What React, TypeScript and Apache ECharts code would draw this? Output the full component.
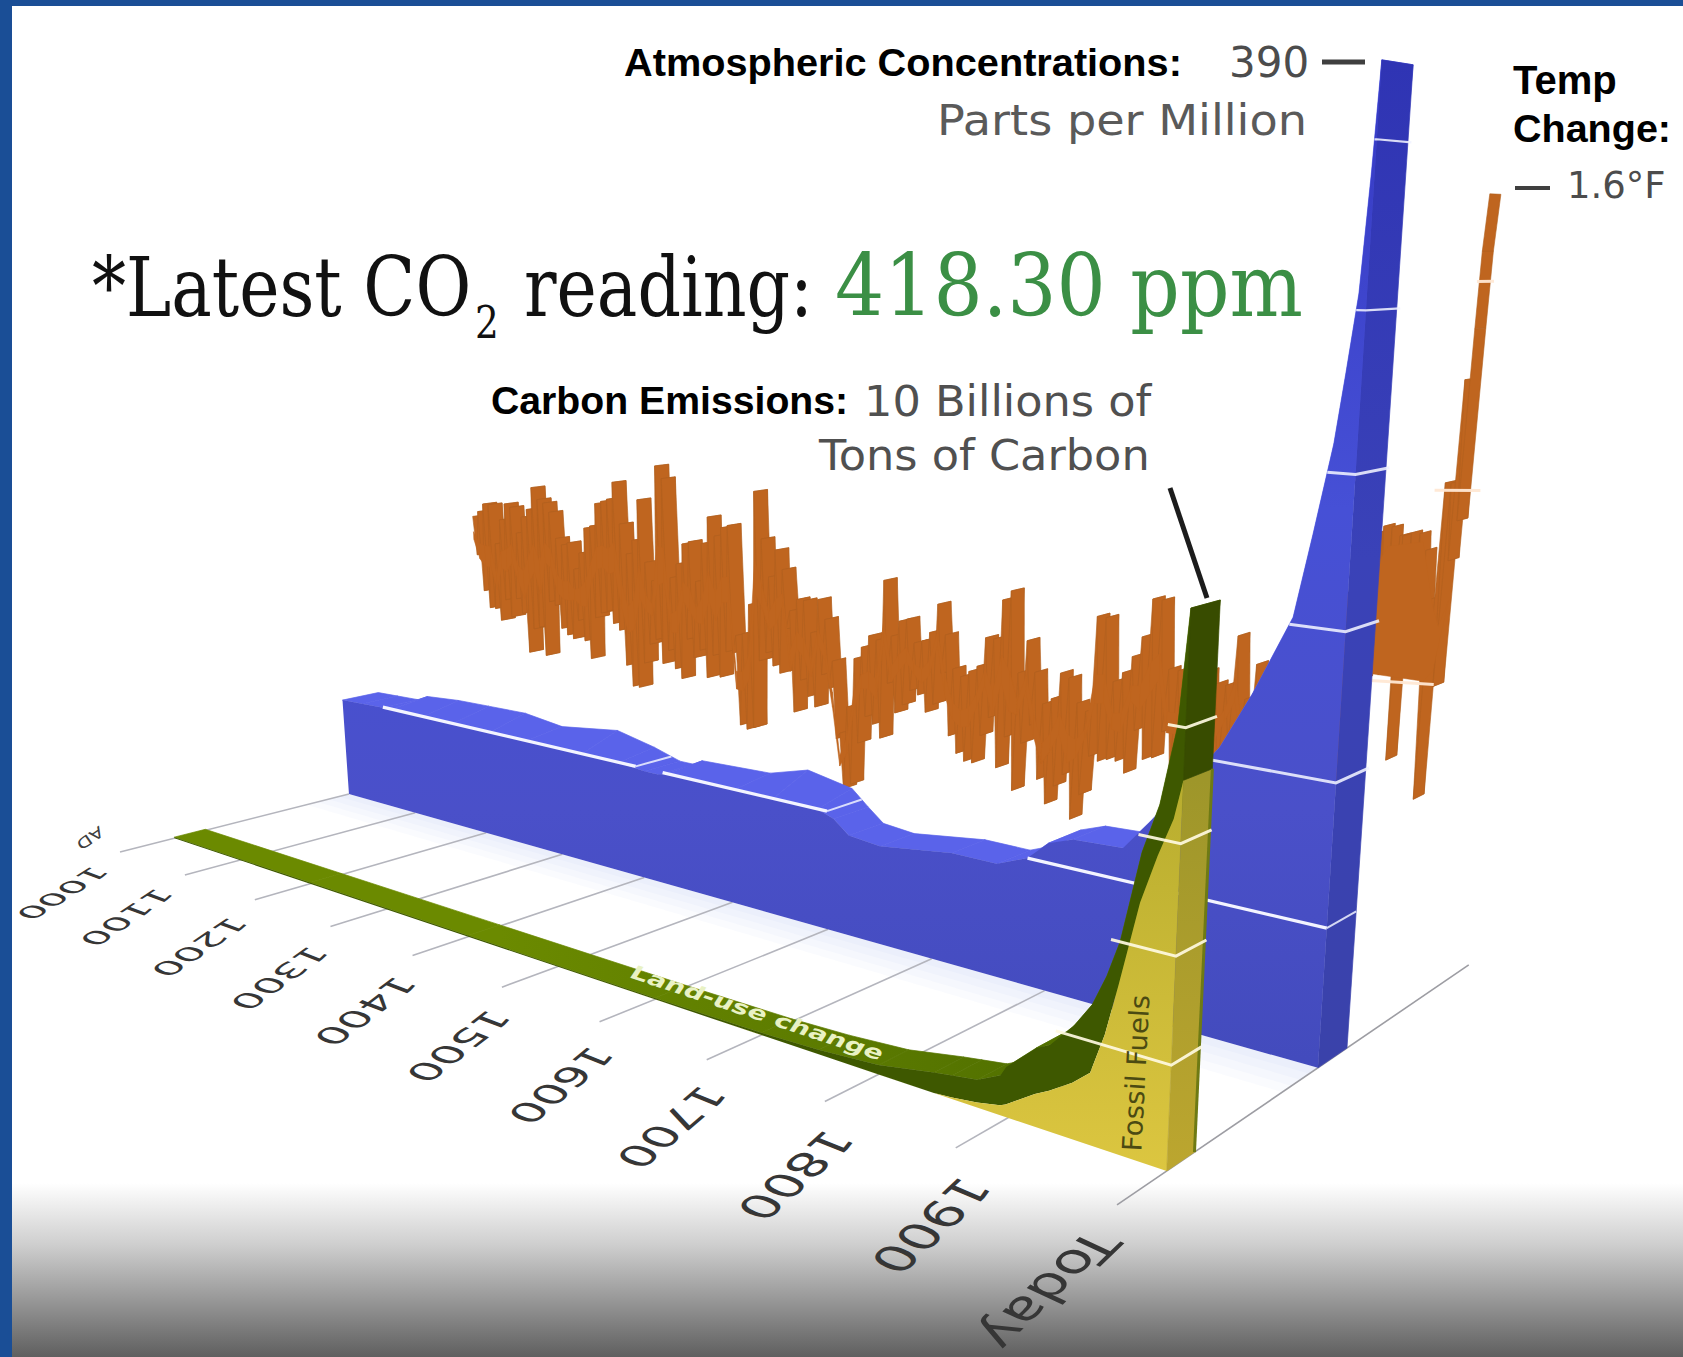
import React, { useEffect, useRef } from "react";
import * as echarts from "echarts";

// ---------- data ----------
const gridYears = [1000, 1100, 1200, 1300, 1400, 1500, 1600, 1700, 1800, 1900, 2010];
const gridLabels = ["1000", "1100", "1200", "1300", "1400", "1500", "1600", "1700", "1800", "1900", "Today"];

const co2Years = [1000, 1030, 1060, 1075, 1120, 1162, 1212, 1260, 1330, 1374, 1404, 1420, 1430, 1505, 1545, 1590, 1606, 1621, 1651, 1717, 1757, 1783, 1800, 1820, 1860, 1880, 1900, 1929, 1950, 1975, 1985, 1995, 2000, 2005, 2008, 2010];
const co2Ppm = [279.5, 279.7, 279.9, 281, 281.6, 281.8, 282, 281, 282.6, 281, 279.5, 279.5, 280.5, 281, 283, 281.5, 279, 276.8, 276.3, 278, 278, 280, 283, 284.4, 284.8, 289.5, 294.5, 302, 310, 321, 332, 343.6, 352.5, 362, 376, 389];
const co2Ticks = [300, 320, 340, 360, 380];

const emissionYears = [1000, 1200, 1400, 1600, 1700, 1750, 1800, 1844, 1858, 1877, 1894, 1898, 1919, 1929, 1945, 1957, 1966, 1974, 1986, 1996, 2005, 2010];
const fossilFuels = [0, 0, 0, 0, 0, 0, 0, 0, 0.03, 0.1, 0.2, 0.25, 0.65, 0.8, 1.1, 1.4, 2.2, 3.2, 4.8, 5.7, 6.4, 7.1];
const landUse = [0.03, 0.03, 0.03, 0.03, 0.05, 0.1, 0.2, 0.42, 0.45, 0.46, 0.6, 0.75, 0.9, 0.9, 1.1, 1.3, 1.1, 0.8, 0.9, 0.9, 1.6, 2.9];
const emissionTicks = [2, 4, 6, 8];

// upper and lower swing of the temperature trace, one pair every 8 years from year 1000
const tempHigh = [
  0.52, 0.54, 0.57, 0.57, 0.43, 0.52, 0.58, 0.57, 0.48, 0.54, 0.57, 0.65, 0.61,
  0.6, 0.57, 0.48, 0.46, 0.47, 0.38, 0.44, 0.53, 0.54, 0.62, 0.63, 0.64,
  0.7, 0.56, 0.46, 0.51, 0.65, 0.44, 0.38, 0.77, 0.73, 0.4, 0.45, 0.52, 0.53,
  0.4, 0.53, 0.62, 0.56, 0.59, 0.6, 0.24, 0.25, 0.35, 0.72, 0.57, 0.45, 0.54,
  0.48, 0.35, 0.39, 0.39, 0.29, 0.4, 0.34, 0.21, -0.02, 0.07, 0.23, 0.27,
  0.31, 0.3, 0.49, 0.32, 0.37, 0.38, 0.31, 0.32, 0.35, 0.44, 0.35, 0.25, 0.23,
  0.25, 0.27, 0.36, 0.36, 0.48, 0.51, 0.27, 0.37, 0.28, 0.19, 0.21, 0.29, 0.28,
  0.21, 0.19, 0.47, 0.47, 0.29, 0.32, 0.37, 0.43, 0.54, 0.54, 0.35,
  0.35, 0.4, 0.38, 0.36, 0.33, 0.33, 0.47, 0.3, 0.4, 0.35, 0.42, 0.38, 0.45, 0.4, 0.5, 0.45,
];
const tempLow = [
  0.38, 0.25, 0.19, 0.19, 0.15, 0.23, 0.17, 0.24, 0.19, 0.05, 0.14, 0.15, 0.05,
  0.25, 0.24, 0.16, 0.14, 0.13, 0.2, 0.13, 0.07, 0.22, 0.24, 0.25, 0.21,
  0.19, 0.07, 0, 0, 0.09, 0.16, 0.18, 0.1, 0.15, 0.09, 0.06, 0.2, 0.14,
  0.17, 0.08, 0.16, 0.09, 0.18, 0.18, -0.06, -0.07, -0.06, 0.17, 0.2, 0.16, 0.14,
  0.29, 0.02, 0.13, 0.08, 0.05, 0.16, 0.12, -0.04, -0.2, -0.18, -0.04, 0.05,
  0.03, -0.01, 0.17, 0.08, 0.11, 0.16, 0.15, 0.1, 0.13, 0.23, 0.04, -0.01, -0.03,
  -0.03, 0.06, 0.12, -0.03, 0.07, -0.09, 0.06, 0.12, -0.04, -0.11, -0.05, -0.01, -0.14,
  -0.06, 0.06, 0.05, 0.06, 0.06, 0.03, 0.16, 0.08, 0.09, 0.17, 0.05,
  0.05, 0.06, 0.08, 0.02, 0.06, 0.16, 0.17, 0.05, 0.05, 0.02, 0.06, 0.03, 0.08, 0.05, 0.1, 0.1,
];
const tempTailYears = [1930, 1933, 1936, 1939, 1942, 1945, 1948, 1951, 1954, 1957, 1960, 1963, 1966, 1967, 1968, 1971, 1974, 1977, 1980, 1983, 1985, 1987, 1989, 1990, 1991, 1993, 1995, 1997, 1999, 2001, 2003, 2005, 2007, 2008, 2010];
const tempTail = [0.62, 0.4, 0.7, 0.42, 0.75, 0.4, 0.78, 0.42, 0.8, 0.42, 0.8, 0.45, 0.78, 0.2, 0.78, 0.45, 0.79, 0.45, 0.79, 0.6, 0.75, 0.5, 0.11, 0.5, 0.63, 0.5, 0.92, 0.41, 0.92, 0.73, 1.17, 0.83, 1.29, 1.47, 1.6];
// the solid block of the last decades
const tempBlockYears = [1930, 1950, 1975, 1985, 1990, 1996];
const tempBlockHigh = [0.6, 0.74, 0.76, 0.6, 0.55, 0.62];
const tempBlockLow = [0.42, 0.42, 0.42, 0.42, 0.42, 0.45];
const tempTicks = [
  { level: 1.4, from: 2006 },
  { level: 0.9, from: 1988 },
  { level: 0.4, from: 1946 },
];
const tempTickEnds = [2010, 2012, 1990];

// ---------- scene: one pinhole view of the year / depth / height box ----------
const W = 1683;
const H = 1357;
const YEAR_MIN = 1000;
const YEAR_MAX = 2010;
const PPM_MIN = 260;
const PPM_MAX = 400;
const TEMP_MIN = -0.4;
const TEMP_MAX = 1.8;
const GTC_MAX = 12;
const AX_PPM = 0;
const AX_TEMP = 1;
const AX_GTC = 2;
// height of each axis' full range, as the share of the perspective weight
const AXIS_SPAN = [(PPM_MAX - PPM_MIN) * 0.000705, (TEMP_MAX - TEMP_MIN) * 0.0403, GTC_MAX * 0.00484];
const CAM = { a: 587.4, b: 265.6, c: 120, d: -88.9, e: 25.3, f: 852, g: -0.3667, h: 0.105, vx: 863, vy: 8243 };

const DEPTH_WALL_FRONT = 1;
const DEPTH_WALL_BACK = 1.173;
const DEPTH_BAR_FRONT = 0.22;
const DEPTH_BAR_BACK = 0.35;
const DEPTH_RIBBON_FRONT = 1.7;
const DEPTH_RIBBON_BACK = 1.775;
const DEPTH_FLOOR_END = 2;

function view(u: number, v: number, q: number): number[] {
  const w = CAM.g * u + CAM.h * v + 1 - q;
  return [
    (CAM.a * u + CAM.b * v + CAM.c - CAM.vx * q) / w,
    (CAM.d * u + CAM.e * v + CAM.f - CAM.vy * q) / w,
  ];
}

// goes through the (hidden) axes of the chart, then through the view
function pt(api: any, axis: number, year: number, value: number, depth: number): number[] {
  const c = api.coord([year, value]);
  return view(c[0] / W, depth, ((H - c[1]) / H) * AXIS_SPAN[axis]);
}

const poly = (points: number[][], fill: any, stroke?: any, lineWidth = 0.7) => ({
  type: "polygon",
  shape: { points },
  style: { fill, stroke: stroke ?? fill, lineWidth },
});
const line = (points: number[][], stroke: any, lineWidth: number) => ({
  type: "polyline",
  shape: { points },
  style: { stroke, lineWidth, fill: "none" },
});
const group = (children: any[]) => ({ type: "group", children });

const custom = (name: string, axis: number, rows: any[], draw: (i: number, api: any) => any) => ({
  name,
  type: "custom",
  coordinateSystem: "cartesian2d",
  xAxisIndex: 0,
  yAxisIndex: axis,
  data: rows,
  encode: { x: 0, y: 1 },
  silent: true,
  clip: false,
  renderItem: (p: any, api: any) => draw(p.dataIndex, api),
});

const zip = (a: number[], b: number[]) => a.map((x, i) => [x, b[i]]);

function lastCrossing(years: number[], values: number[], level: number): number {
  for (let i = values.length - 1; i > 0; i--) {
    if (values[i - 1] < level && values[i] >= level) {
      return years[i - 1] + ((level - values[i - 1]) / (values[i] - values[i - 1])) * (years[i] - years[i - 1]);
    }
  }
  return years[0];
}

function spansAbove(years: number[], values: number[], level: number): number[][] {
  const spans: number[][] = [];
  let start: number | null = values[0] >= level ? years[0] : null;
  for (let i = 1; i < values.length; i++) {
    const cross = years[i - 1] + ((level - values[i - 1]) / ((values[i] - values[i - 1]) || 1)) * (years[i] - years[i - 1]);
    if (start === null && values[i] >= level) start = cross;
    else if (start !== null && values[i] < level) {
      spans.push([start, cross]);
      start = null;
    }
  }
  if (start !== null) spans.push([start, years[years.length - 1]]);
  return spans;
}

const tempPoints: number[][] = [];
tempHigh.forEach((hi, i) => {
  tempPoints.push([YEAR_MIN + 8 * i, hi]);
  tempPoints.push([YEAR_MIN + 8 * i + 4, tempLow[i]]);
});
tempTailYears.forEach((y, i) => tempPoints.push([y, tempTail[i]]));

const emissionTotal = fossilFuels.map((f, i) => f + landUse[i]);
const co2Rows = zip(co2Years, co2Ppm);
const emissionRows = zip(emissionYears, emissionTotal);

// the flat stretch of the wall shows its top surface down to the 280 line
const co2Front = (i: number) => (co2Years[i] < 1800 ? Math.min(co2Ppm[i], 280) : co2Ppm[i]);

const WALL_FACE = {
  type: "linear", x: 0, y: 60, x2: 0, y2: 1060, global: true,
  colorStops: [
    { offset: 0, color: "#3539c3" },
    { offset: 0.45, color: "#4650d6" },
    { offset: 0.75, color: "#4a50c9" },
    { offset: 1, color: "#434bbd" },
  ],
};
const WALL_SIDE = {
  type: "linear", x: 0, y: 60, x2: 0, y2: 1060, global: true,
  colorStops: [
    { offset: 0, color: "#2f34b4" },
    { offset: 0.5, color: "#3a42b8" },
    { offset: 1, color: "#3a42aa" },
  ],
};
const FOSSIL_FACE = {
  type: "linear", x: 0, y: 780, x2: 0, y2: 1170, global: true,
  colorStops: [
    { offset: 0, color: "#b8ad2e" },
    { offset: 1, color: "#dcc640" },
  ],
};
const FOSSIL_SIDE = {
  type: "linear", x: 0, y: 780, x2: 0, y2: 1170, global: true,
  colorStops: [
    { offset: 0, color: "#9e962a" },
    { offset: 1, color: "#bca62f" },
  ],
};
const STRIP_TOP = {
  type: "linear", x: 500, y: 0, x2: 1100, y2: 0, global: true,
  colorStops: [
    { offset: 0, color: "#6b8a00" },
    { offset: 1, color: "#4f6e00" },
  ],
};

const floorShade = [0.8, 0.85, 0.9, 0.95];
const RIBBON = "#bf651f";
const CORE_INSET = 0.4;

const series = [
  custom("Floor shade", AX_PPM, floorShade.map((d) => [YEAR_MIN, PPM_MIN, d]), (i, api) => {
    const d = floorShade[i];
    return poly(
      [pt(api, AX_PPM, YEAR_MIN, PPM_MIN, d), pt(api, AX_PPM, YEAR_MAX, PPM_MIN, d), pt(api, AX_PPM, YEAR_MAX, PPM_MIN, 1), pt(api, AX_PPM, YEAR_MIN, PPM_MIN, 1)],
      "rgba(90,105,235,0.028)", "none", 0
    );
  }),
  custom("Year grid", AX_PPM, gridYears.map((y) => [y, PPM_MIN]), (i, api) => {
    const y = gridYears[i];
    const end = i === gridYears.length - 1 ? DEPTH_FLOOR_END : 1;
    return line([pt(api, AX_PPM, y, PPM_MIN, 0), pt(api, AX_PPM, y, PPM_MIN, end)], i === gridYears.length - 1 ? "#9d9da3" : "#b4b5bd", 1.6);
  }),
  custom("Temperature", AX_TEMP, tempPoints, (i, api) => {
    if (i >= tempPoints.length - 1) return group([]);
    const [y0, t0] = tempPoints[i];
    const [y1, t1] = tempPoints[i + 1];
    return poly(
      [pt(api, AX_TEMP, y0, t0, DEPTH_RIBBON_FRONT), pt(api, AX_TEMP, y1, t1, DEPTH_RIBBON_FRONT), pt(api, AX_TEMP, y1, t1, DEPTH_RIBBON_BACK), pt(api, AX_TEMP, y0, t0, DEPTH_RIBBON_BACK)],
      RIBBON, "#b0601f", 0.6
    );
  }),
  // the dense middle of the trace, between its swings
  custom("Temperature core", AX_TEMP, zip(tempHigh, tempLow), (i, api) => {
    if (i >= tempHigh.length - 1) return group([]);
    const y0 = YEAR_MIN + 8 * i;
    const y1 = y0 + 8;
    const hi0 = tempHigh[i] - CORE_INSET * (tempHigh[i] - tempLow[i]);
    const lo0 = tempLow[i] + CORE_INSET * (tempHigh[i] - tempLow[i]);
    const hi1 = tempHigh[i + 1] - CORE_INSET * (tempHigh[i + 1] - tempLow[i + 1]);
    const lo1 = tempLow[i + 1] + CORE_INSET * (tempHigh[i + 1] - tempLow[i + 1]);
    return poly(
      [pt(api, AX_TEMP, y0, hi0, DEPTH_RIBBON_FRONT), pt(api, AX_TEMP, y1, hi1, DEPTH_RIBBON_FRONT), pt(api, AX_TEMP, y1, lo1, DEPTH_RIBBON_FRONT), pt(api, AX_TEMP, y0, lo0, DEPTH_RIBBON_FRONT)],
      RIBBON, RIBBON, 0.5
    );
  }),
  custom("Temperature block", AX_TEMP, zip(tempBlockYears, tempBlockHigh), (i, api) => {
    if (i > 0) return group([]);
    const upper = tempBlockYears.map((y, k) => pt(api, AX_TEMP, y, tempBlockHigh[k], DEPTH_RIBBON_BACK));
    const lower = tempBlockYears.map((y, k) => pt(api, AX_TEMP, y, tempBlockLow[k], DEPTH_RIBBON_FRONT)).reverse();
    return poly([...upper, ...lower], RIBBON, RIBBON, 0.5);
  }),
  custom("Temperature ticks", AX_TEMP, tempTicks.map((t) => [t.from, t.level]), (i, api) => {
    const t = tempTicks[i];
    return line([pt(api, AX_TEMP, t.from, t.level, DEPTH_RIBBON_FRONT), pt(api, AX_TEMP, tempTickEnds[i], t.level, DEPTH_RIBBON_BACK)], "rgba(255,232,212,0.95)", 3);
  }),
  custom("CO2 top", AX_PPM, co2Rows, (i, api) => {
    if (i >= co2Rows.length - 1) return group([]);
    return poly(
      [
        pt(api, AX_PPM, co2Years[i], co2Front(i), DEPTH_WALL_FRONT),
        pt(api, AX_PPM, co2Years[i + 1], co2Front(i + 1), DEPTH_WALL_FRONT),
        pt(api, AX_PPM, co2Years[i + 1], co2Ppm[i + 1], DEPTH_WALL_BACK),
        pt(api, AX_PPM, co2Years[i], co2Ppm[i], DEPTH_WALL_BACK),
      ],
      "#5a63ea"
    );
  }),
  custom("CO2 side", AX_PPM, [[YEAR_MAX, co2Ppm[co2Ppm.length - 1]]], (_i, api) => {
    const top = co2Ppm[co2Ppm.length - 1];
    return poly(
      [pt(api, AX_PPM, YEAR_MAX, PPM_MIN, DEPTH_WALL_FRONT), pt(api, AX_PPM, YEAR_MAX, PPM_MIN, DEPTH_WALL_BACK), pt(api, AX_PPM, YEAR_MAX, top, DEPTH_WALL_BACK), pt(api, AX_PPM, YEAR_MAX, top, DEPTH_WALL_FRONT)],
      WALL_SIDE
    );
  }),
  custom("CO2 front", AX_PPM, co2Rows, (i, api) => {
    if (i > 0) return group([]);
    const top = co2Years.map((y, k) => pt(api, AX_PPM, y, co2Front(k), DEPTH_WALL_FRONT));
    return poly(
      [pt(api, AX_PPM, YEAR_MIN, PPM_MIN, DEPTH_WALL_FRONT), ...top, pt(api, AX_PPM, YEAR_MAX, PPM_MIN, DEPTH_WALL_FRONT)],
      WALL_FACE, "none", 0
    );
  }),
  custom("CO2 280 line", AX_PPM, spansAbove(co2Years, co2Ppm, 280), (i, api) => {
    const s = spansAbove(co2Years, co2Ppm, 280)[i];
    return group([
      line([pt(api, AX_PPM, s[0], 280, DEPTH_WALL_FRONT), pt(api, AX_PPM, s[1], 280, DEPTH_WALL_FRONT)], "#f3f4ff", 3.2),
      line([pt(api, AX_PPM, s[1], 280, DEPTH_WALL_FRONT), pt(api, AX_PPM, s[1], 280, DEPTH_WALL_BACK)], "rgba(240,242,255,0.85)", 2),
    ]);
  }),
  custom("CO2 ticks", AX_PPM, co2Ticks.map((t) => [YEAR_MAX, t]), (i, api) => {
    const t = co2Ticks[i];
    const from = lastCrossing(co2Years, co2Ppm, t);
    return line(
      [pt(api, AX_PPM, from, t, DEPTH_WALL_FRONT), pt(api, AX_PPM, YEAR_MAX, t, DEPTH_WALL_FRONT), pt(api, AX_PPM, YEAR_MAX, t, DEPTH_WALL_BACK + 0.02)],
      "rgba(240,243,255,0.88)", t > 340 ? 2.2 : 3
    );
  }),
  custom("Emissions top", AX_GTC, emissionRows, (i, api) => {
    if (i >= emissionRows.length - 1) return group([]);
    const [y0, t0] = emissionRows[i];
    const [y1, t1] = emissionRows[i + 1];
    return poly(
      [pt(api, AX_GTC, y0, t0, DEPTH_BAR_FRONT), pt(api, AX_GTC, y1, t1, DEPTH_BAR_FRONT), pt(api, AX_GTC, y1, t1, DEPTH_BAR_BACK), pt(api, AX_GTC, y0, t0, DEPTH_BAR_BACK)],
      STRIP_TOP
    );
  }),
  custom("Land-use change", AX_GTC, emissionRows, (i, api) => {
    if (i > 0) return group([]);
    const upper = emissionYears.map((y, k) => pt(api, AX_GTC, y, emissionTotal[k], DEPTH_BAR_FRONT));
    const lower = emissionYears.map((y, k) => pt(api, AX_GTC, y, fossilFuels[k], DEPTH_BAR_FRONT)).reverse();
    return poly([...upper, ...lower], "#3e5800", "none", 0);
  }),
  custom("Fossil Fuels", AX_GTC, zip(emissionYears, fossilFuels), (i, api) => {
    if (i > 0) return group([]);
    const upper = emissionYears.map((y, k) => pt(api, AX_GTC, y, fossilFuels[k], DEPTH_BAR_FRONT));
    return poly(
      [pt(api, AX_GTC, YEAR_MIN, 0, DEPTH_BAR_FRONT), ...upper, pt(api, AX_GTC, YEAR_MAX, 0, DEPTH_BAR_FRONT)],
      FOSSIL_FACE, "none", 0
    );
  }),
  custom("Emissions side", AX_GTC, [[YEAR_MAX, emissionTotal[emissionTotal.length - 1]]], (_i, api) => {
    const last = emissionTotal.length - 1;
    const f = fossilFuels[last];
    const t = emissionTotal[last];
    return group([
      poly([pt(api, AX_GTC, YEAR_MAX, 0, DEPTH_BAR_FRONT), pt(api, AX_GTC, YEAR_MAX, 0, DEPTH_BAR_BACK), pt(api, AX_GTC, YEAR_MAX, f, DEPTH_BAR_BACK), pt(api, AX_GTC, YEAR_MAX, f, DEPTH_BAR_FRONT)], FOSSIL_SIDE),
      poly([pt(api, AX_GTC, YEAR_MAX, f, DEPTH_BAR_FRONT), pt(api, AX_GTC, YEAR_MAX, f, DEPTH_BAR_BACK), pt(api, AX_GTC, YEAR_MAX, t, DEPTH_BAR_BACK), pt(api, AX_GTC, YEAR_MAX, t, DEPTH_BAR_FRONT)], "#384c00"),
      line([pt(api, AX_GTC, YEAR_MAX, 0, DEPTH_BAR_BACK), pt(api, AX_GTC, YEAR_MAX, f, DEPTH_BAR_BACK)], "#6e7a14", 3),
    ]);
  }),
  custom("Emissions ticks", AX_GTC, emissionTicks.map((t) => [YEAR_MAX, t]), (i, api) => {
    const t = emissionTicks[i];
    const from = lastCrossing(emissionYears, emissionTotal, t);
    return line(
      [pt(api, AX_GTC, from - 6, t, DEPTH_BAR_FRONT), pt(api, AX_GTC, YEAR_MAX, t, DEPTH_BAR_FRONT), pt(api, AX_GTC, YEAR_MAX, t, DEPTH_BAR_BACK + 0.01)],
      "rgba(255,250,225,0.92)", 3
    );
  }),
];

// ---------- texts ----------
const SANS = '"DejaVu Sans"';
const BOLD = '"Liberation Sans"';
const SERIF = '"DejaVu Serif"';
const INK = "#4c4c4c";

const label = (text: string, x: number, y: number, font: string, fill: string, extra: any = {}, align = "left", valign = "bottom") => ({
  type: "text",
  x,
  y,
  z: 60,
  silent: true,
  ...extra,
  style: { text, font, fill, textAlign: align, align, textVerticalAlign: valign, verticalAlign: valign },
});
const deg = (d: number) => (d * Math.PI) / 180;

const axisCentres = [[62, 893], [126, 917], [199, 947], [279, 978], [365, 1011], [458, 1046], [560, 1085], [671, 1127], [795, 1175], [930, 1225], [1049, 1290]];
const axisLengths = [93, 97, 100, 102, 106, 110, 113, 118, 124, 131, 168];
const axisAngles = [32, 34, 34, 35.6, 37, 37.7, 39.7, 40.7, 41.7, 43, 44];
const axisShearAngles = [20, 20, 20, 21, 21, 21, 22, 22, 22, 23, 25];
const axisGlyphHeights = [0.72, 0.74, 0.76, 0.79, 0.82, 0.85, 0.88, 0.91, 0.94, 0.96, 0.95];

// a floor-lying label: reading direction and glyph-height direction on the page, as group + text rotations
const axisText = (t: string, i: number) => {
  const a = deg(axisAngles[i]);
  const b = deg(axisShearAngles[i]);
  const k = axisGlyphHeights[i];
  const m11 = -Math.cos(a);
  const m21 = Math.sin(a);
  const m12 = -k * Math.cos(b);
  const m22 = -k * Math.sin(b);
  const e = (m11 + m22) / 2;
  const f = (m11 - m22) / 2;
  const g = (m21 + m12) / 2;
  const h = (m21 - m12) / 2;
  const q = Math.hypot(e, h);
  const r = Math.hypot(f, g);
  const a1 = Math.atan2(g, f);
  const a2 = Math.atan2(h, e);
  const inner = (a2 - a1) / 2;
  const outer = (a2 + a1) / 2;
  return {
    type: "group",
    x: axisCentres[i][0],
    y: axisCentres[i][1],
    rotation: -outer,
    scaleX: q + r,
    scaleY: q - r,
    z: 60,
    silent: true,
    children: [
      label(t, 0, 0, `${Math.round(axisLengths[i] / (t === "Today" ? 3.06 : 2.544))}px ${SANS}`, "#363636", { rotation: -inner }, "center", "middle"),
    ],
  };
};
const axisTexts = gridLabels.map(axisText);

const rect = (x: number, y: number, width: number, height: number, fill: any, z = -5) => ({
  type: "rect", z, silent: true, shape: { x, y, width, height }, style: { fill },
});
const seg = (x1: number, y1: number, x2: number, y2: number, stroke: string, lineWidth: number) => ({
  type: "line", z: 55, silent: true, shape: { x1, y1, x2, y2 }, style: { stroke, lineWidth },
});

const graphicElements = [
  rect(12, 1183, W - 12, H - 1183, {
    type: "linear", x: 0, y: 0, x2: 0, y2: 1,
    colorStops: [
      { offset: 0, color: "#ffffff" },
      { offset: 0.35, color: "#cfcfcf" },
      { offset: 1, color: "#5f5f5f" },
    ],
  }),
  rect(0, 0, W, 6, "#1a4e96", 70),
  rect(0, 0, 12, H, "#1a4e96", 70),
  seg(1170, 488, 1207, 598, "#1c1c1c", 5),
  seg(1322, 62, 1365, 62, "#3f3f3f", 5),
  seg(1515, 188, 1550, 188, "#3f3f3f", 4),
  label("Atmospheric Concentrations:", 624, 82, `bold 39.7px ${BOLD}`, "#000"),
  label("390", 1229, 83, `42px ${SANS}`, INK),
  label("Parts per Million", 937, 141, `42px ${SANS}`, "#5a5a5a", { scaleX: 1.1 }),
  label("*Latest CO", 92, 329, `82px ${SERIF}`, "#111", { scaleX: 0.83 }),
  label("2", 475, 345, `44px ${SERIF}`, "#111", { scaleX: 0.85 }),
  label("reading:", 524, 329, `82px ${SERIF}`, "#111", { scaleX: 0.83 }),
  label("418.30 ppm", 835, 329, `86px ${SERIF}`, "#3b8f45", { scaleX: 0.9 }),
  label("Carbon Emissions:", 491, 420, `bold 39.2px ${BOLD}`, "#000"),
  label("10 Billions of", 864, 422, `42px ${SANS}`, "#505050", { scaleX: 1.063 }),
  label("Tons of Carbon", 819, 476, `42px ${SANS}`, "#505050", { scaleX: 1.063 }),
  label("Temp", 1513, 100, `bold 40px ${BOLD}`, "#000"),
  label("Change:", 1513, 148, `bold 39.5px ${BOLD}`, "#000"),
  label("1.6\u00b0F", 1567, 204, `37px ${SANS}`, INK),
  label("Land-use change", 757, 1013, `italic bold 30px ${SANS}`, "#e9f2c4", { rotation: deg(-18.4), scaleX: 0.92, scaleY: 0.65, z: 65 }, "center", "middle"),
  label("Fossil Fuels", 1136, 1073, `27px ${SANS}`, "#4b4a12", { rotation: deg(87), scaleX: 1.03, scaleY: 1, z: 65 }, "center", "middle"),
  label("AD", 90, 838, `20px ${SANS}`, "#3f3f3f", { rotation: deg(215), scaleY: 0.75 }, "center", "middle"),
  ...axisTexts,
];

export default function App() {
  const ref = useRef<HTMLDivElement>(null);
  useEffect(() => {
    document.body.style.margin = "0";
    const chart = echarts.init(ref.current!, undefined, { renderer: "svg" });
    chart.setOption({
      animation: false,
      backgroundColor: "#ffffff",
      grid: { left: 0, right: 0, top: 0, bottom: 0 },
      xAxis: { type: "value", min: YEAR_MIN, max: YEAR_MAX, show: false },
      yAxis: [
        { type: "value", min: PPM_MIN, max: PPM_MAX, show: false },
        { type: "value", min: TEMP_MIN, max: TEMP_MAX, show: false },
        { type: "value", min: 0, max: GTC_MAX, show: false },
      ],
      series,
      graphic: { elements: graphicElements },
    });
    return () => chart.dispose();
  }, []);
  return <div ref={ref} style={{ width: W, height: H }} />;
}
